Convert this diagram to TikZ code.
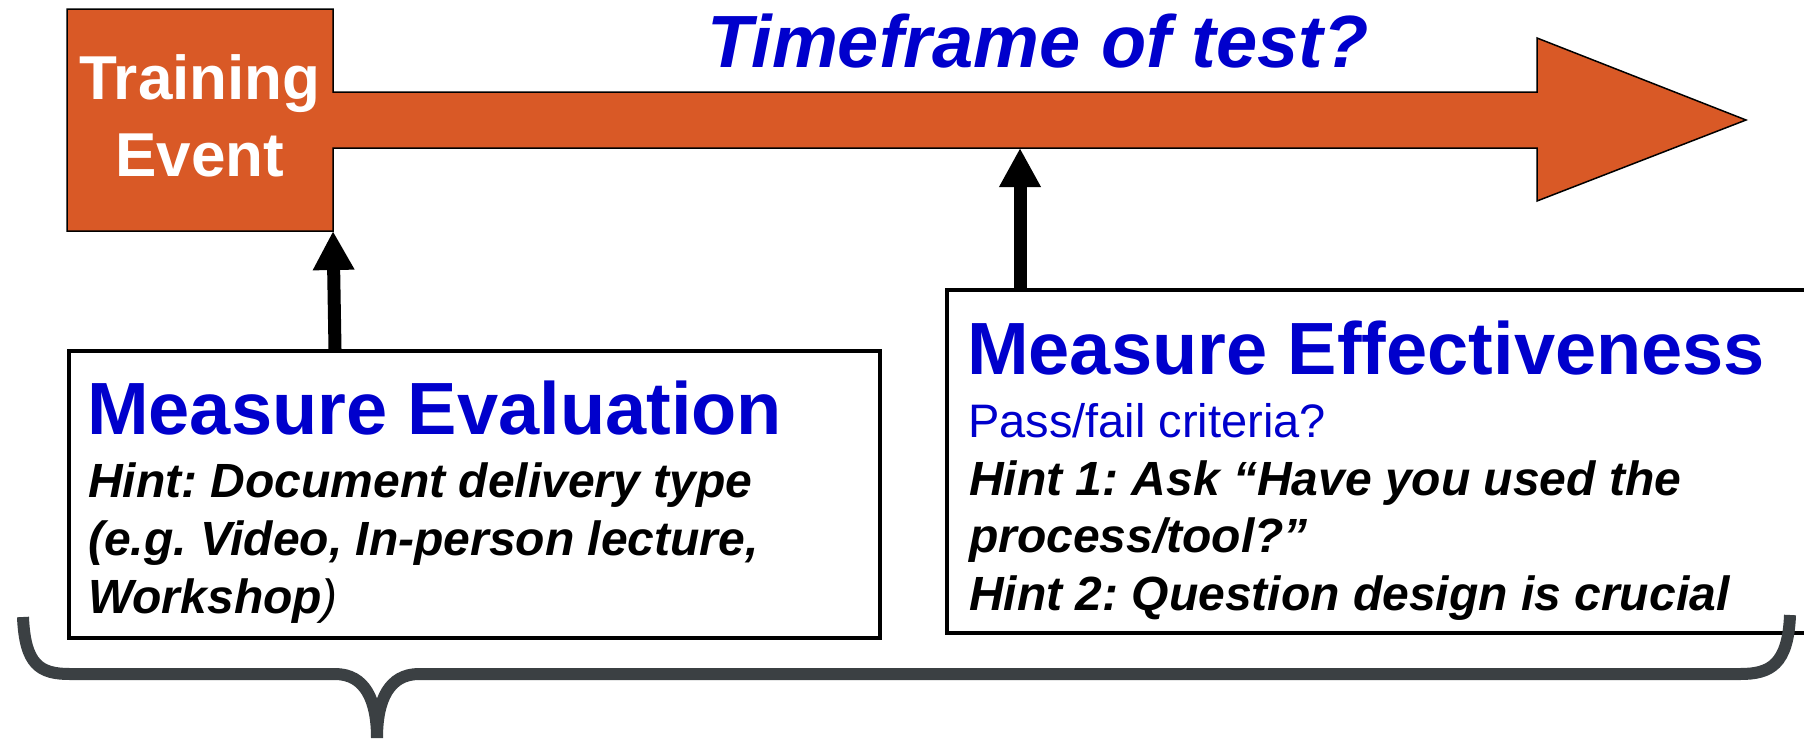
\documentclass[tikz,border=0pt]{standalone}
\usepackage{fontspec}
\setmainfont{Liberation Sans}
\usetikzlibrary{arrows.meta}
\definecolor{tblue}{RGB}{0,0,204}
\definecolor{torange}{RGB}{217,89,38}
\definecolor{bracegray}{RGB}{59,64,67}
\frenchspacing
\tikzset{
  txt/.style={inner sep=0pt, anchor=base west},
  bigtitle/.style={txt, text=tblue, font=\fontsize{74}{80}\selectfont\bfseries},
  hinttxt/.style={txt, font=\fontsize{48}{56}\selectfont\bfseries\itshape},
  uparrow/.style={line width=13pt, -{Triangle[length=39pt,width=39pt]}},
  boxline/.style={line width=3.5pt}
}
\begin{document}
\begin{tikzpicture}[x=1pt,y=-1pt]
\useasboundingbox (0,0) rectangle (1804,740);
% timeline arrow with training event box
\draw[fill=torange, line width=1.5pt, line join=miter]
  (67,9) -- (333,9) -- (333,92) -- (1537,92) -- (1537,38) -- (1746,120)
  -- (1537,201) -- (1537,148) -- (333,148) -- (333,231) -- (67,231) -- cycle;
\coordinate (trainse) at (333,231);
\coordinate (shaftpt) at (1020,148);
\node[inner sep=0pt, anchor=base, text=white, font=\fontsize{62}{70}\selectfont\bfseries] (train1) at (200,99) {Training};
\node[inner sep=0pt, anchor=base, text=white, font=\fontsize{62}{70}\selectfont\bfseries] (train2) at (200,176) {Event};
\node[inner sep=0pt, anchor=base, text=tblue, font=\fontsize{74}{80}\selectfont\bfseries\itshape] (title) at (1038,67) {Timeframe of test?};
% left box
\node[draw, boxline, inner sep=0pt, minimum width=811pt, minimum height=287pt, anchor=north west] (evalbox) at (67,349) {};
\node[bigtitle] (evaltitle) at (87,434) {Measure Evaluation};
\node[hinttxt] (evalh1) at (88,497) {Hint: Document delivery type};
\node[hinttxt] (evalh2) at (88,555) {(e.g. Video, In-person lecture,};
\node[hinttxt] (evalh3) at (88,613) {Workshop{\mdseries)}};
% right box (open to the right edge)
\coordinate (effnw) at (947,290);
\draw[boxline] (1812,290) -- (effnw) -- (947,633) -- (1812,633);
\node[bigtitle] (efftitle) at (967,374) {Measure Effectiveness};
\node[txt, text=tblue, font=\fontsize{47}{56}\selectfont] (effpass) at (968,437) {Pass/fail criteria?};
\node[hinttxt] (effh1) at (969,495) {Hint 1: Ask “Have you used the};
\node[hinttxt] (effh2) at (969,552) {process/tool?”};
\node[hinttxt] (effh3) at (969,610) {Hint 2: Question design is crucial};
% up arrows
\draw[uparrow] (evalbox.north -| trainse) ++(2,0) -- (trainse);
\draw[uparrow] (effnw -| shaftpt) -- (shaftpt);
% brace
\draw[bracegray, line width=12pt]
  (23,617) .. controls (25,665) and (40,674) .. (70,674) -- (335,674)
  .. controls (365,674) and (377,700) .. (377,738)
  .. controls (377,700) and (389,674) .. (419,674) -- (1740,674)
  .. controls (1770,674) and (1788,665) .. (1790,615);
\end{tikzpicture}
\end{document}
